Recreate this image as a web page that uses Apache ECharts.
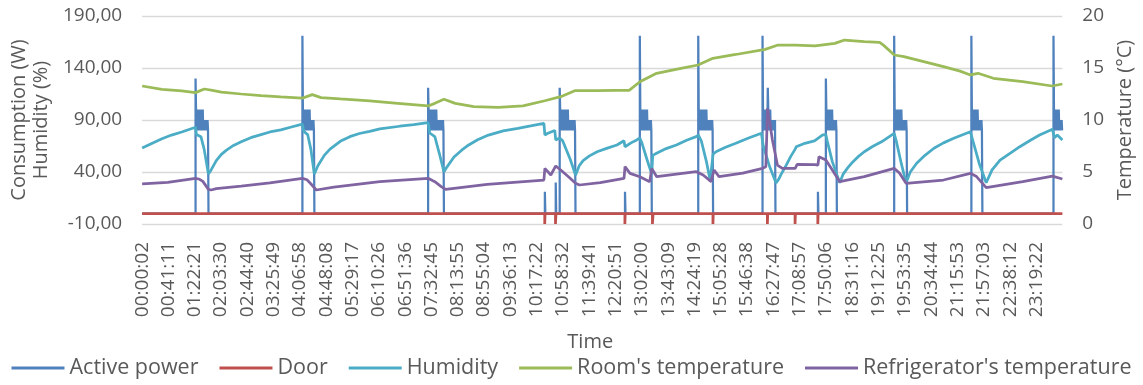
<!DOCTYPE html>
<html>
<head>
<meta charset="utf-8">
<script src="https://cdn.jsdelivr.net/npm/echarts@6/dist/echarts.min.js"></script>
<style>
  html, body { margin: 0; padding: 0; background: #ffffff; }
  #chart { width: 1143px; height: 385px; }
</style>
</head>
<body>
<div id="chart"></div>
<script>
// Time-axis tick labels (hh:mm:ss)
const timeLabels = ['00:00:02','00:41:11','01:22:21','02:03:30','02:44:40','03:25:49','04:06:58','04:48:08',
  '05:29:17','06:10:26','06:51:36','07:32:45','08:13:55','08:55:04','09:36:13','10:17:22','10:58:32',
  '11:39:41','12:20:51','13:02:00','13:43:09','14:24:19','15:05:28','15:46:38','16:27:47','17:08:57',
  '17:50:06','18:31:16','19:12:25','19:53:35','20:34:44','21:15:53','21:57:03','22:38:12','23:19:22'];

// Left axis tick values (W / %)
const leftTicks = [-10, 40, 90, 140, 190];

// Humidity (%), [minute of day, value]
const humidity = [[0,63],[15,67.5],[31,72],[46,75.5],[62,78.5],[83.6,83],[85,76],[92,74],[97,62],[103.7,38],
  [108,42],[116,51],[124,57],[132,61],[143,65.5],[155,69],[170,73],[186,76],[200,78.5],[217,80.5],[235,83.5],
  [250.8,86],[253,79],[259,76],[264,62],[269.4,38],[275,46],[285,56],[294,62],[310,69.5],[325,74],[340,77],
  [356,79],[372,81.5],[403,84],[425,85.5],[447.5,87.5],[450,77.5],[458,74],[465,58],[472.3,40],[476,44],
  [488,54.5],[500,61],[511,66],[525,71],[542,75.5],[565,79.5],[588,82],[610,84.5],[628.7,86.8],[630.2,75.6],
  [634,77],[645.7,80],[647.2,70.8],[653.4,72.7],[658,70],[670,52],[678.2,37],[684,46],[690,51],[700,55.5],
  [712,59.5],[728,63],[743,66],[754,70],[755.6,64.3],[765,68],[774,70.8],[778.8,72.7],[782,68],[790,52],
  [797.4,38],[799,56],[805,58],[820,62.5],[836,66],[852,70.5],[867,74],[870.2,75.6],[875,70],[883,50],
  [888.8,32],[893.4,57],[898,59.5],[912,63.5],[929,67.6],[950,73],[969,77.2],[972,65],[982,45],[992,29.5],
  [996,33],[1000,38],[1006.5,45],[1015,55],[1021.9,62],[1023.5,64.3],[1037,67.6],[1052,70],[1057.5,72.4],
  [1059,74],[1065,75.6],[1069.9,76],[1072,70],[1080,50],[1091.6,29.7],[1097,38],[1104,44],[1110,48.4],
  [1120,54.5],[1130,59.5],[1143,64.5],[1157,69],[1176.8,77.2],[1180,70],[1188,48],[1195.4,29.7],[1202,40],
  [1212,48.4],[1225,56],[1239,62.8],[1254,68],[1270,72.4],[1296,78.7],[1300,70],[1310,48],[1320.8,29.7],
  [1330,42],[1342.5,51.5],[1358,58],[1373.4,64.3],[1390,70.5],[1404.4,75.6],[1424.5,81],[1427.6,73],
  [1432,75.6],[1440,70.8]];

// Room's temperature (°C), [minute of day, value]
const roomTemp = [[0,13.27],[31,12.95],[62,12.8],[83.6,12.63],[90,12.8],[97.5,12.98],[110,12.85],[124,12.69],
  [155,12.5],[186,12.34],[217,12.22],[250.8,12.1],[266.3,12.44],[280,12.15],[310,12.02],[356,11.83],[400,11.6],
  [447.5,11.35],[458,11.6],[472.3,11.99],[490,11.6],[519,11.28],[557,11.22],[596,11.35],[630,11.85],[655,12.24],
  [677,12.82],[712,12.82],[740,12.85],[762,12.85],[779,13.68],[805,14.49],[843,14.97],[870,15.29],[893,15.93],
  [929,16.3],[975,16.79],[995,17.21],[1022,17.21],[1053,17.12],[1084,17.37],[1099,17.69],[1130,17.53],
  [1154,17.47],[1160,17.2],[1177,16.25],[1192,16.09],[1223,15.61],[1254,15.13],[1280,14.7],[1296,14.33],
  [1308,14.49],[1332,14.01],[1378,13.68],[1424,13.27],[1440,13.46]];

// Refrigerator's temperature (°C), [minute of day, value]
const fridgeTemp = [[0,3.85],[40,4.0],[83.6,4.39],[90,4.3],[95,4.1],[103.7,3.33],[108,3.27],[116,3.4],[155,3.65],
  [200,3.95],[250.8,4.39],[258,4.25],[265,3.8],[272.5,3.27],[300,3.55],[372,4.07],[447.5,4.39],[458,4.07],
  [468,3.6],[475,3.33],[540,3.8],[628.7,4.23],[630.2,5.35],[639.5,4.71],[647.2,5.58],[655,5.19],[668,4.5],
  [678.2,3.91],[684.4,3.75],[716.9,3.97],[754.1,4.39],[755.6,5.51],[763.4,4.87],[778.8,4.55],[794.3,4.07],
  [797.4,5.35],[805.2,4.55],[867.1,5.03],[877.9,4.71],[890.3,4.07],[895,5.19],[902.7,4.55],[940,4.9],
  [970.8,5.35],[976,5.5],[978.6,11.12],[986.3,8.08],[994.1,5.67],[1001.8,5.35],[1021.9,5.35],[1025,5.74],
  [1052.9,5.7],[1057.5,5.67],[1059.1,6.47],[1069.9,6.15],[1080,5.2],[1091.6,4.07],[1130,4.55],[1176.8,5.35],
  [1185,4.9],[1195.4,3.91],[1254,4.23],[1296,4.87],[1305,4.6],[1320.8,3.49],[1378,4.07],[1424.5,4.61],
  [1440,4.33]];

// Door open intervals [opened, closed] in minutes (1 = closed, 0 = open)
const doorOpenings = [[630.0,630.5],[646.8,647.6],[755.4,755.9],[798.5,799.6],[893.2,893.7],
  [978.4,978.9],[1021.7,1022.2],[1057.3,1057.8]];

// Active power (W): compressor runs, readings every 0.75 min from each start
const powerStep = 0.75;
const powerRuns = [
  { start: 83.6,   readings: [130,100,80,100,80,100,80,100,80,100,80,100,80,100,80,100,80,90,80,90,80,90,80,90,80,90,80,0] },
  { start: 250.8,  readings: [171,100,80,100,80,100,80,100,80,100,80,100,80,100,80,100,80,90,80,90,80,90,80,90,80,0] },
  { start: 447.5,  readings: [121,100,80,100,80,100,80,100,80,100,80,100,80,100,80,100,80,100,80,90,80,90,80,90,80,90,80,90,80,90,80,90,80,0] },
  { start: 630.2,  readings: [21,0] },
  { start: 647.2,  readings: [30,0] },
  { start: 653.4,  readings: [121,100,80,100,80,100,80,100,80,100,80,100,80,100,80,100,80,100,80,90,80,90,80,90,80,90,80,90,80,90,80,90,80,0] },
  { start: 755.6,  readings: [21,0] },
  { start: 778.8,  readings: [171,100,80,100,80,100,80,100,80,100,80,100,80,100,80,100,80,90,80,90,80,90,80,90,80,0] },
  { start: 870.2,  readings: [171,100,80,100,80,100,80,100,80,100,80,100,80,100,80,100,80,100,80,90,80,90,80,90,80,90,80,90,80,90,80,0] },
  { start: 970.8,  readings: [171,100,80,100,80,100,80,100,80,100,80,121,100,80,100,80,100,80,90,80,90,80,90,80,90,80,90,0] },
  { start: 1057.5, readings: [21,0] },
  { start: 1069.9, readings: [130,100,80,100,80,100,80,100,80,100,80,100,80,100,80,90,80,90,80,90,80,90,80,0] },
  { start: 1176.8, readings: [171,100,80,100,80,100,80,100,80,100,80,100,80,100,80,100,80,90,80,90,80,90,80,90,80,90,80,0] },
  { start: 1297.6, readings: [171,100,80,100,80,100,80,100,80,100,80,100,80,100,80,90,80,90,80,90,80,90,80,0] },
  { start: 1426.1, readings: [171,100,80,100,80,100,80,100,80,100,80,100,80,90,80,90,80,90,80] }
];

// ---- build series data ----
const powerData = [[0, 0]];
powerRuns.forEach(run => {
  powerData.push([run.start, 0]);
  run.readings.forEach((w, i) => powerData.push([run.start + i * powerStep, w]));
});

const doorData = [[0, 1]];
doorOpenings.forEach(([a, b]) => { doorData.push([a, 1], [a, 0], [b, 0], [b, 1]); });
doorData.push([1440, 1]);

function toMinutes(s) {
  const [h, m, sec] = s.split(':').map(Number);
  return h * 60 + m + sec / 60;
}
const tickMinutes = timeLabels.map(toMinutes);
function timeLabelAt(v) {
  let best = '', d = Infinity;
  tickMinutes.forEach((t, i) => { const e = Math.abs(t - v); if (e < d) { d = e; best = timeLabels[i]; } });
  return d < 1 ? best : '';
}

const FONT = 'Open Sans';
const GREY = '#595959';
const COLORS = { power: '#4F81BD', door: '#C0504D', hum: '#4BACC6', room: '#9BBB59', fridge: '#8064A2' };

function lineSeries(name, data, color, axis, width) {
  return {
    name, type: 'line', data, yAxisIndex: axis,
    showSymbol: false, symbol: 'none', smooth: false,
    lineStyle: { color, width }, itemStyle: { color },
    emphasis: { disabled: true }
  };
}

const chart = echarts.init(document.getElementById('chart'), null, { renderer: 'canvas' });
chart.setOption({
  animation: false,
  textStyle: { fontFamily: FONT },
  grid: { left: 140, right: 73, top: 16, bottom: 161 },
  legend: {
    top: 352, left: 'center',
    icon: 'rect', itemWidth: 53, itemHeight: 3, itemGap: 21,
    selectedMode: false,
    textStyle: { fontFamily: FONT, fontSize: 21.5, color: GREY },
    data: ['Active power', 'Door', 'Humidity', "Room's temperature", "Refrigerator's temperature"]
  },
  xAxis: {
    type: 'value', min: 0, max: 1440,
    name: 'Time', nameLocation: 'middle', nameGap: 108,
    nameTextStyle: { fontFamily: FONT, fontSize: 20, color: GREY, padding: [0, 24, 0, 0] },
    axisLine: { show: false }, axisTick: { show: false }, splitLine: { show: false },
    axisLabel: {
      customValues: tickMinutes, rotate: 90, margin: 18,
      fontFamily: FONT, fontSize: 19, color: GREY,
      formatter: v => timeLabelAt(v)
    }
  },
  yAxis: [
    {
      type: 'value', min: -10, max: 190, position: 'left',
      name: 'Consumption (W)\nHumidity (%)', nameLocation: 'middle', nameGap: 89, nameRotate: 90,
      nameTextStyle: { fontFamily: FONT, fontSize: 20, lineHeight: 22, color: GREY, align: 'center' },
      axisLine: { show: false }, axisTick: { show: false }, splitLine: { show: false },
      axisLabel: {
        customValues: leftTicks, margin: 20,
        fontFamily: FONT, fontSize: 19, color: GREY,
        formatter: v => v.toFixed(2).replace('.', ',')
      }
    },
    {
      type: 'value', min: 0, max: 20, interval: 5, position: 'right',
      name: 'Temperature (°C)', nameLocation: 'middle', nameGap: 43, nameRotate: 90,
      nameTextStyle: { fontFamily: FONT, fontSize: 20, color: GREY },
      axisLine: { show: false }, axisTick: { show: false },
      splitLine: { show: true, lineStyle: { color: '#D9D9D9', width: 1.3 } },
      axisLabel: { margin: 20, fontFamily: FONT, fontSize: 19, color: GREY }
    }
  ],
  series: [
    lineSeries('Active power', powerData, COLORS.power, 0, 2.25),
    lineSeries('Door', doorData, COLORS.door, 1, 2.75),
    lineSeries('Humidity', humidity, COLORS.hum, 0, 2.75),
    lineSeries("Room's temperature", roomTemp, COLORS.room, 1, 2.75),
    lineSeries("Refrigerator's temperature", fridgeTemp, COLORS.fridge, 1, 2.75)
  ]
});
</script>
</body>
</html>
